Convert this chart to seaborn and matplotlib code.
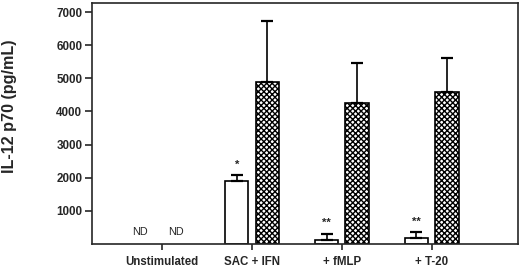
import numpy as np
import pandas as pd
import matplotlib
matplotlib.use('Agg')
import matplotlib.pyplot as plt
import seaborn as sns

# datos
conditions = ['Unstimulated', 'SAC + IFN', '+ fMLP', '+ T-20']
series = ['open', 'hatched']
open_vals = [0, 1900, 110, 180]
open_err = [0, 170, 200, 165]
hatched_vals = [0, 4900, 4260, 4590]
hatched_err = [0, 1840, 1210, 1020]
stars = ['', '*', '**', '**']

df = pd.DataFrame({
    'cond': conditions * 2,
    'serie': [series[0]] * 4 + [series[1]] * 4,
    'val': open_vals + hatched_vals,
})

sns.set_style('ticks')
plt.rcParams['font.family'] = ['Liberation Sans', 'DejaVu Sans']
plt.rcParams['hatch.linewidth'] = 1.0

fig = plt.figure(figsize=(5.2, 2.68), dpi=100)
ax = fig.add_axes([0.177, 0.09, 0.819, 0.899])

sns.barplot(data=df, x='cond', y='val', hue='serie', order=conditions,
            hue_order=series, palette=['white', 'white'], width=0.68,
            gap=0.24, edgecolor='black', linewidth=1.2, legend=False,
            errorbar=None, ax=ax)

n = len(conditions)
patches = ax.patches[:2 * n]
for i in range(n):
    ax.patches[n + i].set_hatch('xxxxxx')

errs = open_err + hatched_err
vals = open_vals + hatched_vals
for p, v, e in zip(patches, vals, errs):
    if v == 0:
        p.set_visible(False)
        continue
    xc = p.get_x() + p.get_width() / 2
    ax.errorbar(xc, v, yerr=[[0], [e]], fmt='none', ecolor='black',
                elinewidth=1.2, capsize=4, capthick=1.6)

# asteriscos sobre las barras blancas
for i in range(n):
    if stars[i]:
        p = patches[i]
        xc = p.get_x() + p.get_width() / 2
        ax.text(xc, open_vals[i] + open_err[i] + 180, stars[i], ha='center',
                va='bottom', fontsize=8, fontweight='bold')

# ND para no estimulado
nd_x = [-0.245, 0.155]
for xc in nd_x:
    ax.text(xc, 350, 'ND', ha='center', va='center', fontsize=7.8)

ax.set_xlim(-0.78, 3.96)
ax.set_ylim(0, 7280)
ax.set_yticks([1000, 2000, 3000, 4000, 5000, 6000, 7000])
ax.set_xlabel('')
ax.set_ylabel('IL-12 p70 (pg/mL)', fontsize=11.6, fontweight='bold')
ax.yaxis.set_label_coords(-0.176, 0.57)
for lab in ax.get_xticklabels() + ax.get_yticklabels():
    lab.set_fontweight('bold')
ax.tick_params(axis='y', labelsize=8.4, length=5, width=1.2, pad=2)
ax.tick_params(axis='x', labelsize=8.3, length=4, width=1.2, pad=4.5)
for s in ax.spines.values():
    s.set_visible(True)
    s.set_linewidth(1.2)

plt.savefig('out.png', dpi=100)
